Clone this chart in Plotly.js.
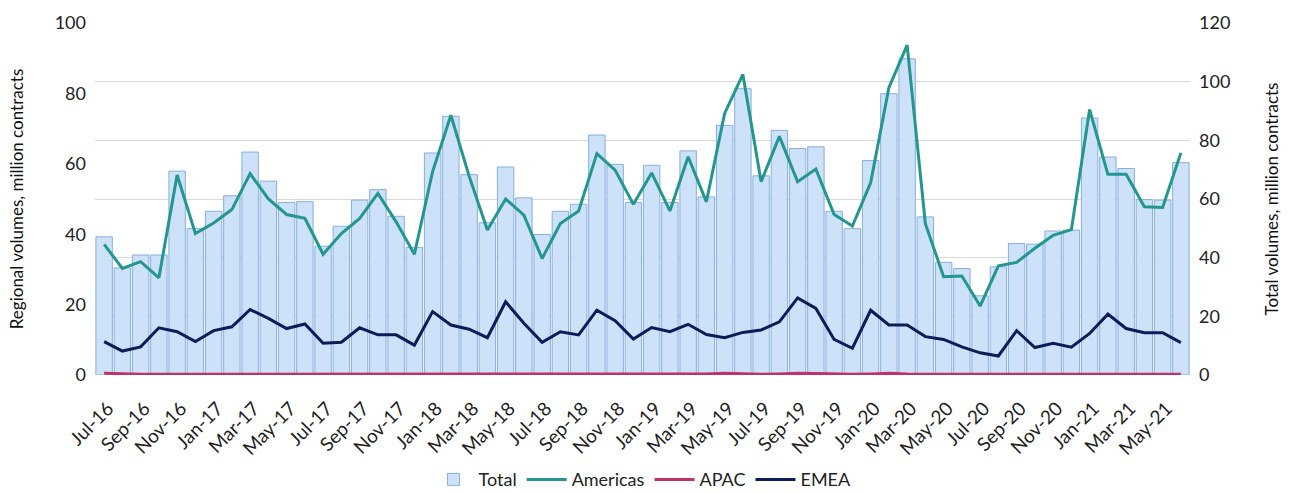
<!DOCTYPE html>
<html>
<head>
<meta charset="utf-8">
<script src="https://cdn.plot.ly/plotly-3.0.1.min.js"></script>
<style>html,body{margin:0;padding:0;background:#fff;}#chart{width:1290px;height:492px;}</style>
</head>
<body>
<div id="chart"></div>
<script>
const months = ["Jul-16","Aug-16","Sep-16","Oct-16","Nov-16","Dec-16","Jan-17","Feb-17","Mar-17","Apr-17","May-17","Jun-17",
"Jul-17","Aug-17","Sep-17","Oct-17","Nov-17","Dec-17","Jan-18","Feb-18","Mar-18","Apr-18","May-18","Jun-18",
"Jul-18","Aug-18","Sep-18","Oct-18","Nov-18","Dec-18","Jan-19","Feb-19","Mar-19","Apr-19","May-19","Jun-19",
"Jul-19","Aug-19","Sep-19","Oct-19","Nov-19","Dec-19","Jan-20","Feb-20","Mar-20","Apr-20","May-20","Jun-20",
"Jul-20","Aug-20","Sep-20","Oct-20","Nov-20","Dec-20","Jan-21","Feb-21","Mar-21","Apr-21","May-21","Jun-21"];

const total = [47.1,36.5,40.9,40.9,69.5,49.9,55.8,61.1,76.0,66.1,58.8,59.1,43.9,50.7,59.6,63.2,54.1,43.5,75.7,88.2,
68.3,51.9,70.9,60.4,47.9,55.8,58.2,81.8,71.8,58.8,71.5,58.8,76.4,60.7,85.1,97.6,67.9,83.4,77.2,77.8,
55.8,49.9,73.1,95.9,107.8,53.9,38.4,36.3,27.0,36.9,44.8,44.6,49.1,49.4,87.6,74.3,70.4,59.8,59.6,72.4];

const americas = [37.1,30.3,32.2,27.6,56.8,40.2,43.2,47.0,57.2,50.0,45.6,44.5,34.3,40.2,44.5,51.6,43.5,34.3,57.8,73.8,
56.5,41.2,50.0,45.4,33.1,43.0,46.6,62.9,58.2,48.5,57.4,46.6,62.0,49.2,74.3,85.4,54.9,67.8,54.9,58.5,
45.6,42.3,54.6,81.6,93.7,43.0,27.9,28.1,19.6,31.0,32.0,36.0,39.7,41.3,75.4,57.0,57.0,47.8,47.6,63.1];

const apac = [0.5,0.3,0.2,0.2,0.2,0.2,0.2,0.2,0.2,0.2,0.2,0.2,0.2,0.2,0.2,0.2,0.2,0.2,0.2,0.2,
0.2,0.2,0.2,0.2,0.2,0.2,0.2,0.2,0.2,0.2,0.2,0.2,0.2,0.3,0.5,0.3,0.2,0.3,0.5,0.4,
0.2,0.2,0.3,0.5,0.3,0.2,0.2,0.2,0.2,0.2,0.2,0.2,0.2,0.2,0.2,0.2,0.2,0.2,0.2,0.2];

const emea = [9.5,6.8,8.0,13.4,12.3,9.5,12.6,13.7,18.6,16.1,13.2,14.5,9.0,9.3,13.4,11.4,11.4,8.5,18.0,14.2,
13.0,10.6,20.8,14.7,9.3,12.3,11.4,18.4,15.4,10.2,13.5,12.3,14.4,11.5,10.6,12.1,12.8,15.1,21.9,18.9,
10.1,7.6,18.4,14.2,14.2,10.9,10.1,8.0,6.3,5.4,12.6,7.8,9.0,7.9,11.8,17.3,13.2,12.0,12.0,9.2];

const fontFam = "Lato, 'Open Sans', sans-serif";
const traces = [
  {type:'bar', name:'Total', x:months, y:total, yaxis:'y',
   marker:{color:'#cde2f8', line:{color:'#86aee0', width:1}}},
  {type:'scatter', mode:'lines', name:'Americas', x:months, y:americas, yaxis:'y2',
   line:{color:'#23968f', width:3}},
  {type:'scatter', mode:'lines', name:'APAC', x:months, y:apac, yaxis:'y2',
   line:{color:'#c2306a', width:3}},
  {type:'scatter', mode:'lines', name:'EMEA', x:months, y:emea, yaxis:'y2',
   line:{color:'#0c1c5a', width:3}}
];

const layout = {
  width:1290, height:492,
  margin:{l:95, r:100, t:23, b:117, autoexpand:false},
  paper_bgcolor:'#fff', plot_bgcolor:'#fff',
  font:{family:fontFam, size:15, color:'#222'},
  bargap:0.1,
  showlegend:true,
  legend:{orientation:'h', x:0.5, xanchor:'center', yref:'container', y:0.025, yanchor:'middle',
          font:{size:18, color:'#222'}, traceorder:'normal', itemwidth:40},
  xaxis:{type:'category', tickmode:'linear', tick0:0, dtick:2, tickangle:-45,
         showgrid:false, showline:false, ticks:'outside', ticklen:14, tickcolor:'rgba(0,0,0,0)',
         tickfont:{size:19, color:'#222'}, ticklabelshift:4, automargin:false},
  yaxis:{side:'right', range:[0,120], dtick:20, showgrid:true, gridcolor:'#d9d9d9',
         zeroline:false, showline:false, tickfont:{size:18, color:'#222'}, ticklabelstandoff:8,
         title:{text:'Total volumes, million contracts', font:{size:17, color:'#111'}, standoff:36},
         automargin:false},
  yaxis2:{side:'left', overlaying:'y', range:[0,100], dtick:20, showgrid:false,
          zeroline:false, showline:false, tickfont:{size:18, color:'#222'}, ticklabelstandoff:8,
          title:{text:'Regional volumes, million contracts', font:{size:17, color:'#111'}, standoff:26},
          automargin:false}
};

Plotly.newPlot('chart', traces, layout, {displayModeBar:false, staticPlot:true});
</script>
</body>
</html>
